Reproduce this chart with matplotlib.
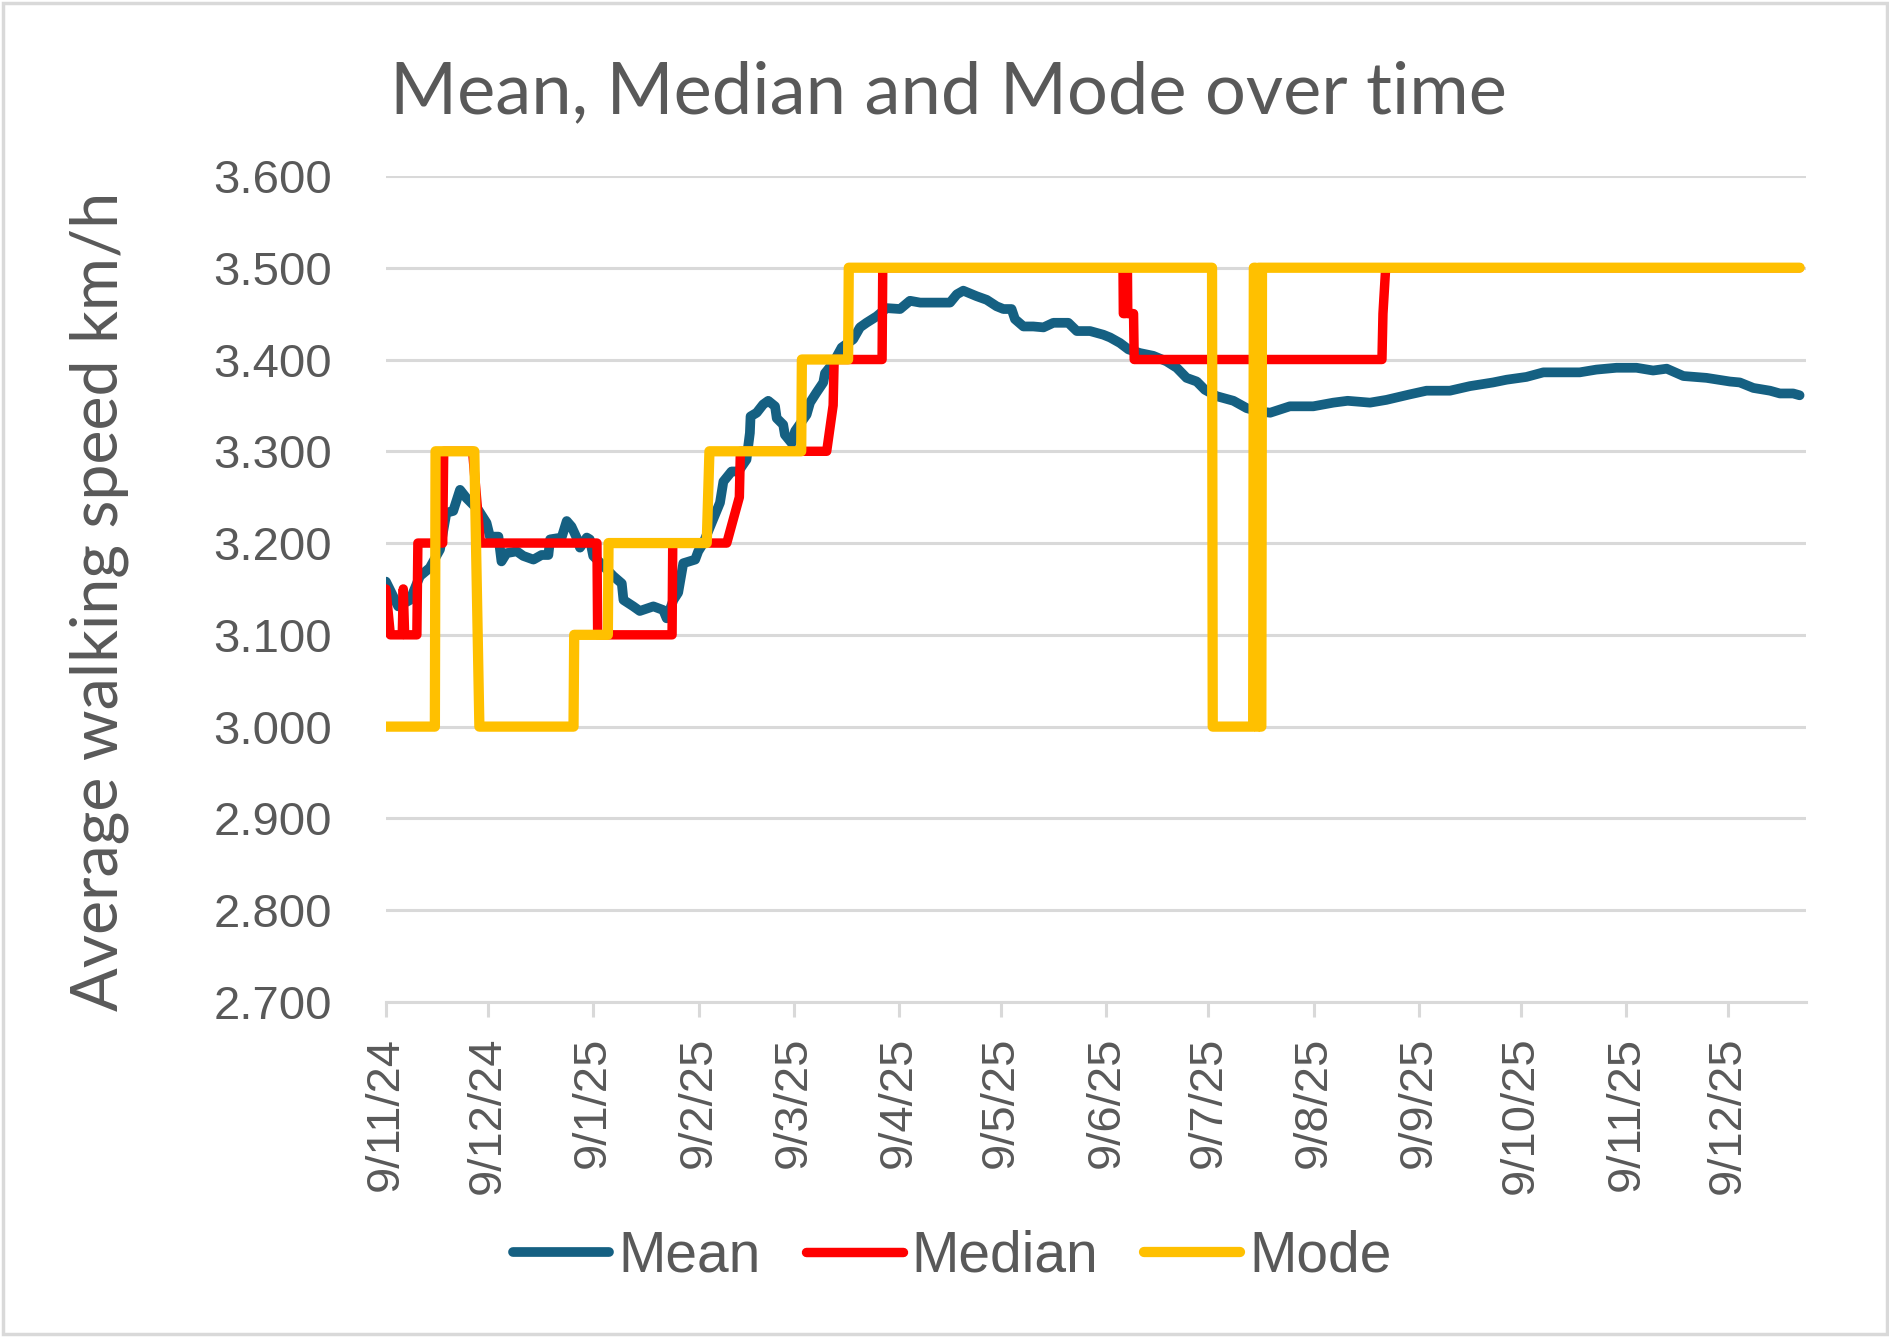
from datetime import datetime, timedelta

import matplotlib
matplotlib.use("Agg")
import matplotlib.pyplot as plt
import matplotlib.dates as mdates
from matplotlib.patches import Rectangle
import numpy as np

# days counted from 9 Nov 2024, values in km/h
start_date = datetime(2024, 11, 9)

mean_day = [0.0, 3.6, 7.1, 10.0, 12.9, 15.9, 17.8, 19.8, 21.8, 23.7, 27.2, 29.6, 30.6,
            33.1, 34.0, 35.5, 38.5, 40.4, 43.4, 45.8, 47.8, 48.3, 51.7, 53.2, 54.6,
            56.1, 57.1, 59.1, 60.0, 61.0, 64.0, 66.9, 69.4, 69.9, 72.8, 74.7, 78.7,
            81.6, 82.6, 84.6, 86.0, 87.5, 91.0, 91.9, 93.4, 95.4, 98.3, 99.3, 101.7,
            103.7, 106.1, 107.1, 107.3, 109.1, 111.0, 112.5, 114.5, 115.0, 116.9,
            117.4, 119.4, 120.4, 123.8, 124.8, 126.7, 128.7, 129.2, 131.6, 134.1,
            137.5, 139.5, 141.4, 144.4, 147.3, 151.3, 154.2, 157.2, 162.1, 166.0,
            168.0, 169.9, 173.8, 176.8, 179.7, 181.7, 184.1, 185.1, 187.6, 190.5,
            193.5, 196.4, 200.8, 203.3, 207.2, 211.1, 213.1, 216.0, 218.5, 221.9,
            225.8, 229.7, 232.7, 235.6, 238.6, 241.0, 244.5, 249.4, 253.3, 256.2,
            260.2, 266.0, 272.9, 278.8, 283.0, 289.6, 294.4, 301.3, 306.2, 313.1,
            319.0, 325.8, 329.8, 335.6, 340.6, 351.3, 356.2, 362.1, 368.0, 372.9,
            376.9, 381.8, 388.6, 395.5, 398.4, 402.4, 407.3, 410.2, 414.1, 416.0]
mean_val = [3.158, 3.131, 3.138, 3.164, 3.173, 3.193, 3.233, 3.235, 3.258, 3.249, 3.236,
            3.222, 3.207, 3.207, 3.180, 3.189, 3.191, 3.186, 3.182, 3.187, 3.187, 3.204,
            3.206, 3.224, 3.218, 3.206, 3.195, 3.206, 3.204, 3.186, 3.175, 3.164, 3.156,
            3.138, 3.131, 3.126, 3.131, 3.127, 3.118, 3.138, 3.146, 3.178, 3.182, 3.191,
            3.200, 3.218, 3.244, 3.267, 3.278, 3.278, 3.291, 3.320, 3.338, 3.342, 3.351,
            3.355, 3.349, 3.336, 3.329, 3.318, 3.309, 3.322, 3.340, 3.353, 3.364, 3.375,
            3.385, 3.396, 3.413, 3.422, 3.435, 3.440, 3.447, 3.456, 3.455, 3.464, 3.462,
            3.462, 3.462, 3.471, 3.475, 3.469, 3.465, 3.458, 3.455, 3.455, 3.444, 3.436,
            3.436, 3.435, 3.440, 3.440, 3.431, 3.431, 3.427, 3.424, 3.418, 3.411, 3.407,
            3.404, 3.398, 3.391, 3.380, 3.376, 3.367, 3.360, 3.355, 3.347, 3.344, 3.342,
            3.349, 3.349, 3.353, 3.355, 3.353, 3.356, 3.362, 3.366, 3.366, 3.371, 3.375,
            3.378, 3.381, 3.386, 3.386, 3.389, 3.391, 3.391, 3.388, 3.390, 3.382, 3.380,
            3.376, 3.375, 3.369, 3.366, 3.363, 3.363, 3.361]

median_day = [0.0, 1.3, 4.8, 5.1, 5.5, 9.1, 9.4, 16.7, 17.0, 25.5, 27.8, 62.1, 62.3,
              84.2, 84.4, 100.3, 104.0, 104.3, 129.7, 131.6, 131.9, 146.0, 146.2,
              216.9, 217.0, 217.6, 217.7, 218.2, 218.3, 220.0, 220.2, 293.1, 293.4,
              294.2, 416.0]
median_val = [3.15, 3.10, 3.10, 3.15, 3.10, 3.10, 3.20, 3.20, 3.30, 3.30, 3.20, 3.20, 3.10,
              3.10, 3.20, 3.20, 3.25, 3.30, 3.30, 3.35, 3.40, 3.40, 3.50,
              3.50, 3.45, 3.45, 3.50, 3.50, 3.45, 3.45, 3.40, 3.40, 3.45,
              3.50, 3.50]

mode_day = [0.0, 14.4, 14.6, 26.0, 27.5, 55.2, 55.4, 65.3, 65.5, 94.4, 95.2, 122.2, 122.4,
            136.0, 136.2, 243.1, 243.3, 255.2, 255.4, 255.9, 256.1, 256.6, 256.8, 257.2,
            257.4, 257.6, 257.8, 416.0]
mode_val = [3.0, 3.0, 3.3, 3.3, 3.0, 3.0, 3.1, 3.1, 3.2, 3.2, 3.3, 3.3, 3.4,
            3.4, 3.5, 3.5, 3.0, 3.0, 3.5, 3.5, 3.0, 3.0, 3.5, 3.5,
            3.0, 3.0, 3.5, 3.5]

tick_dates = [datetime(2024, 11, 9), datetime(2024, 12, 9)] + \
             [datetime(2025, m, 9) for m in range(1, 13)]

GREY_TXT = "#595959"
GREY_LINE = "#D9D9D9"


def to_x(days):
    base = mdates.date2num(start_date)
    return base + np.array(days)


fig = plt.figure(figsize=(18.9, 13.37), dpi=100)
ax = fig.add_axes([0.2042, 0.2506, 0.7512, 0.6178])

line_kw = dict(solid_capstyle="round", solid_joinstyle="round")
ax.plot(to_x(mean_day), mean_val, color="#156082", lw=7, label="Mean", zorder=3, **line_kw)
ax.plot(to_x(median_day), median_val, color="#FF0000", lw=6.8, label="Median", zorder=4, **line_kw)
ax.plot(to_x(mode_day), mode_val, color="#FFC000", lw=7.4, label="Mode", zorder=5, **line_kw)

ax.set_xlim(to_x([0.0])[0], to_x([417.8])[0])
ax.set_ylim(2.7, 3.6)
ax.set_yticks(np.arange(2.7, 3.61, 0.1))
ax.yaxis.set_major_formatter(matplotlib.ticker.FormatStrFormatter("%.3f"))
ax.grid(axis="y", color=GREY_LINE, lw=2.2)
ax.set_axisbelow(True)

ax.set_xticks(mdates.date2num(tick_dates))
ax.set_xticklabels([f"{d.day}/{d.month}/{d.year % 100}" for d in tick_dates], rotation=90)

for s in ["top", "right", "left"]:
    ax.spines[s].set_visible(False)
ax.spines["bottom"].set_color(GREY_LINE)
ax.spines["bottom"].set_linewidth(2.2)

ax.tick_params(axis="y", length=0, pad=39, labelsize=34, labelcolor=GREY_TXT)
ax.tick_params(axis="x", length=11, width=2.2, color=GREY_LINE, direction="out",
               pad=14, labelsize=34, labelcolor=GREY_TXT)
for lab in ax.get_xticklabels() + ax.get_yticklabels():
    lab.set_family(["Liberation Sans", "DejaVu Sans"])

fig.text(0.2063, 0.9155, "Mean, Median and Mode over time", ha="left", va="baseline",
         fontsize=52, color=GREY_TXT, family=["Lato", "DejaVu Sans"])
fig.text(0.0370, 0.5505, "Average walking speed km/h", rotation=90, ha="left", va="center",
         fontsize=46.5, color=GREY_TXT, family=["Lato", "DejaVu Sans"])

leg = fig.legend(loc="center", bbox_to_anchor=(0.5037, 0.060), ncol=3, frameon=False,
                 handlelength=1.7, handletextpad=0.15, columnspacing=0.8,
                 prop={"family": ["Liberation Sans", "DejaVu Sans"], "size": 41})
for t in leg.get_texts():
    t.set_color(GREY_TXT)

fig.patches.append(Rectangle((0.0015, 0.002), 0.997, 0.996, transform=fig.transFigure,
                             fill=False, edgecolor=GREY_LINE, lw=2.5))

fig.savefig("out.png", dpi=100)
